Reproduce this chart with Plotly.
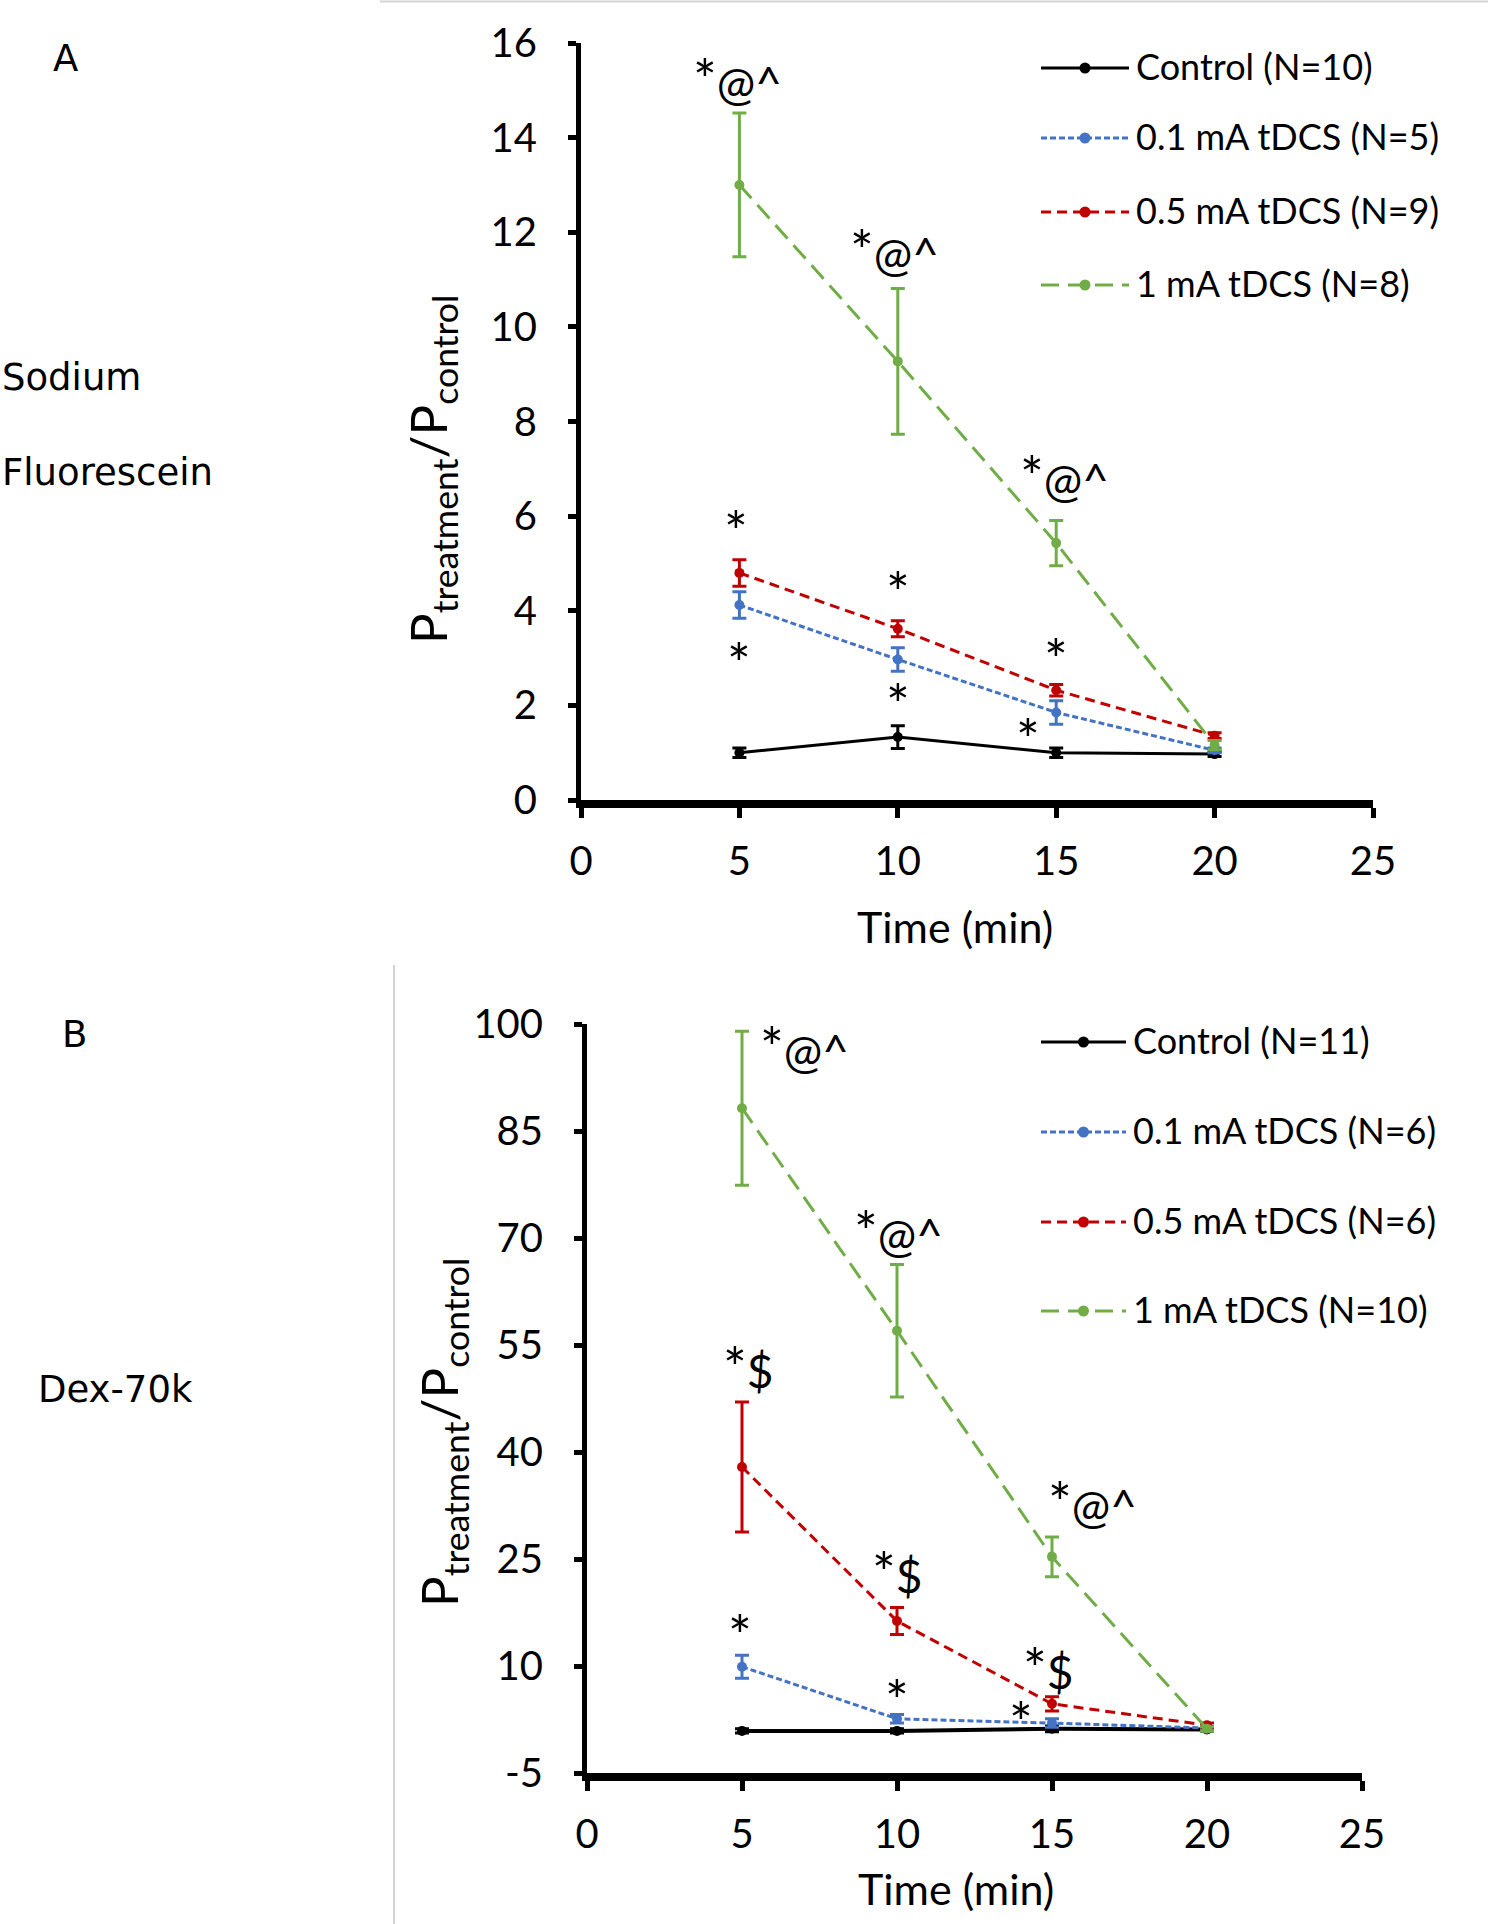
import plotly.graph_objects as go

W, H = 1488, 1924

time = [5, 10, 15, 20]

# Panel A: Sodium Fluorescein
A_control = [1.00, 1.33, 1.00, 0.97]
A_control_err = [0.10, 0.24, 0.10, 0.05]
A_01 = [4.12, 2.97, 1.85, 1.05]
A_01_err = [0.28, 0.25, 0.25, 0.05]
A_05 = [4.80, 3.62, 2.32, 1.36]
A_05_err = [0.28, 0.17, 0.12, 0.06]
A_1 = [13.0, 9.27, 5.43, 1.16]
A_1_err = [1.52, 1.54, 0.48, 0.10]

# Panel B: Dex-70k
B_control = [0.9, 0.9, 1.2, 1.1]
B_control_err = [0.3, 0.3, 0.4, 0.2]
B_01 = [9.9, 2.6, 2.0, 1.3]
B_01_err = [1.6, 0.6, 0.6, 0.2]
B_05 = [37.9, 16.3, 4.7, 1.7]
B_05_err = [9.1, 1.9, 1.0, 0.3]
B_1 = [88.2, 57.0, 25.3, 1.2]
B_1_err = [10.8, 9.3, 2.8, 0.3]

A_yticks = [0, 2, 4, 6, 8, 10, 12, 14, 16]
B_yticks = [-5, 10, 25, 40, 55, 70, 85, 100]
B_yticklabels = ["-5", "10", "25", "40", "55", "70", "85", "100"]

A_legend = ["Control (N=10)", "0.1 mA tDCS (N=5)", "0.5 mA tDCS (N=9)", "1 mA tDCS (N=8)"]
B_legend = ["Control (N=11)", "0.1 mA tDCS (N=6)", "0.5 mA tDCS (N=6)", "1 mA tDCS (N=10)"]

A_marks = [(4.95, 15.3, "*@^"), (9.9, 11.67, "*@^"), (15.25, 6.9, "*@^"),
           (4.9, 6.0, "*"), (5.0, 3.2, "*"), (10, 4.7, "*"), (10, 2.33, "*"),
           (15, 3.28, "*"), (14.1, 1.6, "*")]
B_marks = [(7.03, 97.1, "*@^"), (10.06, 71.4, "*@^"), (5.2, 52.2, "*$"),
           (16.3, 33.3, "*@^"), (10.0, 23.5, "*$"), (4.94, 16.4, "*"),
           (14.9, 10.1, "*$"), (10, 7.3, "*"), (14.0, 4.25, "*")]

colors = ["#000000", "#4472C4", "#C00000", "#70AD47"]
dashes = ["solid", "6px,3px", "10px,6px", "18px,9px"]

FONT = "Lato"

def px(x):
    return x / W

def py(y):
    return 1 - y / H

fig = go.Figure()

def add_series(ys, errs, i, xa, ya, lw):
    fig.add_trace(go.Scatter(
        x=time, y=ys, mode="lines+markers", xaxis=xa, yaxis=ya,
        line=dict(color=colors[i], dash=dashes[i], width=lw),
        marker=dict(color=colors[i], size=10),
        error_y=dict(type="data", array=errs, color=colors[i], thickness=3, width=7),
        showlegend=False, hoverinfo="skip"))

A_series = [(A_control, A_control_err), (A_01, A_01_err), (A_05, A_05_err), (A_1, A_1_err)]
B_series = [(B_control, B_control_err), (B_01, B_01_err), (B_05, B_05_err), (B_1, B_1_err)]
for i, (ys, es) in enumerate(A_series):
    add_series(ys, es, i, "x", "y", 3)
for i, (ys, es) in enumerate(B_series):
    add_series(ys, es, i, "x2", "y2", 4 if i == 0 else 3)

axis_common = dict(showgrid=False, zeroline=False, showline=True, linecolor="black",
                   ticks="outside", tickcolor="black", tickwidth=5, automargin=False,
                   tickfont=dict(family=FONT, size=40, color="black"))

fig.update_layout(
    template="none",
    width=W, height=H, margin=dict(l=0, r=0, t=0, b=0, pad=0, autoexpand=False),
    paper_bgcolor="white", plot_bgcolor="white", showlegend=False,
    xaxis=dict(domain=[px(581), px(1373)], range=[0, 25], dtick=5, tick0=0,
               anchor="y", linewidth=8, ticklen=10, ticklabelstandoff=9, **axis_common),
    yaxis=dict(domain=[py(800), py(43)], range=[0, 16], tickvals=A_yticks,
               anchor="x", linewidth=5, ticklen=8, ticklabelstandoff=23, **axis_common),
    xaxis2=dict(domain=[px(587), px(1362)], range=[0, 25], dtick=5, tick0=0,
                anchor="y2", linewidth=8, ticklen=10, ticklabelstandoff=9, **axis_common),
    yaxis2=dict(domain=[py(1773), py(1024)], range=[-5, 100], tickvals=B_yticks,
                ticktext=B_yticklabels,
                anchor="x2", linewidth=5, ticklen=8, ticklabelstandoff=23, **axis_common),
)

annotations = []
shapes = []

def mark_text(t):
    # enlarge the asterisk like the original
    return t.replace("*", '<span style="font-size:56px">*</span>')

for xa, ya, marks in (("x", "y", A_marks), ("x2", "y2", B_marks)):
    for (mx, my, t) in marks:
        annotations.append(dict(x=mx, y=my, xref=xa, yref=ya, text=mark_text(t), showarrow=False,
                                xanchor="center", yanchor="middle",
                                yshift=-14 if t == "*" else -2,
                                font=dict(family=FONT, size=46, color="black")))

def legend(labels, ys, x0, x1, tx):
    for i, (lab, yy) in enumerate(zip(labels, ys)):
        shapes.append(dict(type="line", xref="paper", yref="paper",
                           x0=px(x0), x1=px(x1), y0=py(yy), y1=py(yy),
                           line=dict(color=colors[i], width=3, dash=dashes[i])))
        cx = (x0 + x1) / 2
        shapes.append(dict(type="circle", xref="paper", yref="paper",
                           x0=px(cx - 5.5), x1=px(cx + 5.5), y0=py(yy + 5.5), y1=py(yy - 5.5),
                           fillcolor=colors[i], line=dict(color=colors[i], width=0)))
        annotations.append(dict(x=px(tx), y=py(yy - 2), xref="paper", yref="paper", text=lab,
                                showarrow=False, xanchor="left", yanchor="middle",
                                font=dict(family=FONT, size=36, color="black")))

legend(A_legend, [68, 138, 212, 285], 1041, 1129, 1134)
legend(B_legend, [1042, 1132, 1222, 1311], 1041, 1126, 1131)

ytitle = "P<sub>treatment</sub>/P<sub>control</sub>"
for (cx, cy) in ((432, 469), (442, 1432)):
    annotations.append(dict(x=px(cx), y=py(cy), xref="paper", yref="paper", text=ytitle,
                            textangle=-90, showarrow=False, xanchor="center", yanchor="middle",
                            font=dict(family=FONT, size=51, color="black")))
for (cx, cy) in ((955, 926), (956, 1888)):
    annotations.append(dict(x=px(cx), y=py(cy), xref="paper", yref="paper", text="Time (min)",
                            showarrow=False, xanchor="center", yanchor="middle",
                            font=dict(family=FONT, size=43, color="black")))

side = [("A", 65, 59, "center"), ("Sodium", 0, 378, "left"), ("Fluorescein", 0, 472, "left"),
        ("B", 74, 1034, "center"), ("Dex-70k", 36, 1389, "left")]
for (t, x, y, anc) in side:
    annotations.append(dict(x=px(x), y=py(y), xref="paper", yref="paper", text=t,
                            showarrow=False, xanchor=anc, yanchor="middle",
                            font=dict(family="DejaVu Sans", size=37, color="black")))

shapes.append(dict(type="line", xref="paper", yref="paper", x0=px(380), x1=1, y0=py(1.5), y1=py(1.5),
                   line=dict(color="#d4d4d4", width=2)))
shapes.append(dict(type="line", xref="paper", yref="paper", x0=px(394), x1=px(394), y0=py(965), y1=0,
                   line=dict(color="#d4d4d4", width=2)))

fig.update_layout(annotations=annotations, shapes=shapes)
fig.write_html("out.html", config={"displayModeBar": False},
               post_script="document.body.style.margin='0';document.body.style.padding='0';document.body.style.overflow='hidden';")
